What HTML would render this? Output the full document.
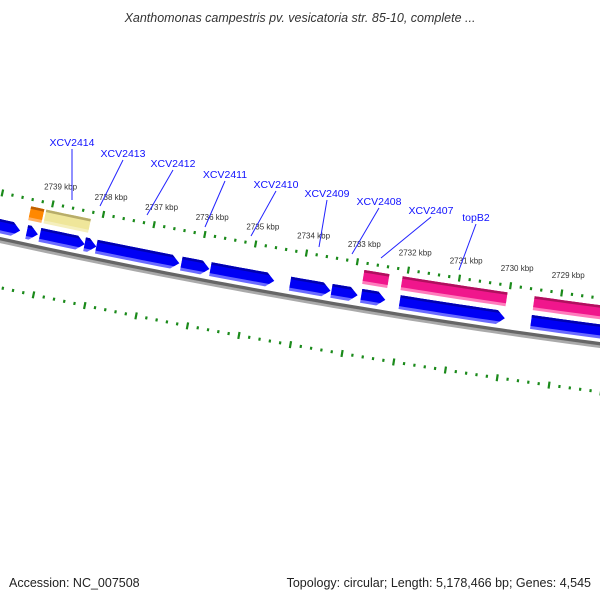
<!DOCTYPE html>
<html><head><meta charset="utf-8"><style>
html,body{margin:0;padding:0;background:#fff;width:600px;height:600px;overflow:hidden}
svg{display:block;font-family:"Liberation Sans","DejaVu Sans",sans-serif}
</style></head><body>
<svg id="map" width="600" height="600" viewBox="0 0 600 600" xmlns="http://www.w3.org/2000/svg">
<text x="300" y="22" text-anchor="middle" font-size="12.5" font-style="italic" fill="#333">Xanthomonas campestris pv. vesicatoria str. 85-10, complete ...</text>
<text x="9" y="587" font-size="12.5" fill="#222">Accession: NC_007508</text>
<text x="591" y="587" text-anchor="end" font-size="12.5" fill="#222">Topology: circular; Length: 5,178,466 bp; Genes: 4,545</text>
<defs id="defs"></defs>
<g id="ticks"></g>
<g id="backbone"></g>
<g id="features"></g>
<g id="labels"></g>
</svg>
<script>
// data (kbp)
const tickMajors=[2741,2740,2739,2738,2737,2736,2735,2734,2733,2732,2731,2730,2729,2728,2727];
const tickLabelKbp=[2739,2738,2737,2736,2735,2734,2733,2732,2731,2730,2729];
const blueStart=[2741.0,2739.38,2739.12,2738.24,2738.01,2736.34,2735.77,2734.21,2733.40,2732.82,2732.07,2729.51];
const blueEnd  =[2739.51,2739.16,2738.24,2738.01,2736.38,2735.79,2734.52,2733.42,2732.89,2732.35,2730.02,2727.0];
const upStart=[2739.40,2739.10,2732.84,2732.09,2729.51];
const upEnd  =[2739.14,2738.22,2732.35,2730.04,2727.0];
const upKind =["orange","yellow","pink","pink","pink"];
const geneNames=["XCV2414","XCV2413","XCV2412","XCV2411","XCV2410","XCV2409","XCV2408","XCV2407","topB2"];
const geneLabelX=[72,123,173,225,276,327,379,431,476];
const geneLabelY=[146,157,167,178,188,197,205,214,221];
const geneLineEndX=[72,100,147,205,251,319,352,381,459];
const geneLineEndY=[200,206,215,227,236,247,254,258,270];

const NS="http://www.w3.org/2000/svg";
const CX=1528,CY=-6726,R=Math.hypot(0-CX,238.5-CY);
const PHI0=Math.atan2(238.5-CY,0-CX);
function sOf(k){return 44.5+(2739-k)*52;}
function pt(s,r){const p=PHI0-s/R;return [CX+(R+r)*Math.cos(p),CY+(R+r)*Math.sin(p)];}
function mk(tag,attrs,parent){const e=document.createElementNS(NS,tag);for(const k in attrs)e.setAttribute(k,attrs[k]);parent.appendChild(e);return e;}
function band(s1,s2,r1,r2){let a=[];const n=Math.max(2,Math.ceil((s2-s1)/10));for(let i=0;i<=n;i++)a.push(pt(s1+(s2-s1)*i/n,r1));for(let i=n;i>=0;i--)a.push(pt(s1+(s2-s1)*i/n,r2));return a.map(p=>p[0].toFixed(2)+","+p[1].toFixed(2)).join(" ");}
function arrow(s1,s2,r1,r2,h){const sh=Math.max(s1,s2-h);let a=[];const n=Math.max(2,Math.ceil((sh-s1)/10));for(let i=0;i<=n;i++)a.push(pt(s1+(sh-s1)*i/n,r1));a.push(pt(s2,(r1+r2)/2));for(let i=n;i>=0;i--)a.push(pt(s1+(sh-s1)*i/n,r2));return a.map(p=>p[0].toFixed(2)+","+p[1].toFixed(2)).join(" ");}

// ticks
const tg=document.getElementById('ticks');
[-45,48].forEach((rc,ri)=>{
  for(let k=2741;k>=2727;k-=0.2){
    const kk=Math.round(k*10)/10;
    const major=Math.abs(kk-Math.round(kk))<0.01;
    if(major)continue;
    const s=sOf(kk);const a=pt(s,rc-1.5),b=pt(s,rc+1.5);
    const l=mk('line',{x1:a[0],y1:a[1],x2:b[0],y2:b[1],stroke:'#1a8a1a','stroke-width':2.2},tg);
    
    
  }
  tickMajors.forEach(k=>{
    const s=sOf(k);const a=pt(s,rc-3.5),b=pt(s,rc+3.5);
    const l=mk('line',{x1:a[0],y1:a[1],x2:b[0],y2:b[1],stroke:'#1a8a1a','stroke-width':2.2},tg);
    
    
  });
});
tickLabelKbp.forEach(k=>{
  const p=pt(sOf(k),-63);
  const t=mk('text',{x:p[0]+4,y:p[1]+3,'text-anchor':'middle','font-size':8,fill:'#333'},tg);
  t.textContent=k+' kbp';
  
  
});

// backbone
const bb=document.getElementById('backbone');
mk('polygon',{points:band(-20,640,1.5,4.5),fill:'#aaa'},bb);
mk('polygon',{points:band(-20,640,-1.5,1.8),fill:'#666'},bb);

// features
const fg=document.getElementById('features');
const defs=document.getElementById('defs');
let cid=0;
function feature(s1,s2,r1,r2,isArrow,cols,name){
  const id='c'+(cid++);
  const cp=mk('clipPath',{id:id},defs);
  mk('polygon',{points:isArrow?arrow(s1,s2,r1,r2,8):band(s1,s2,r1,r2)},cp);
  const g=mk('g',{'clip-path':'url(#'+id+')'},fg);
  
  
  mk('polygon',{points:band(s1-2,s2+2,r1-1,r2+1),fill:cols[2]},g);
  mk('polygon',{points:band(s1-2,s2+2,r1-1,r2-3),fill:cols[0]},g);
  mk('polygon',{points:band(s1-2,s2+2,r1-1,r1+2.5),fill:cols[1]},g);
}
const BLUE=['#0000f5','#0000b0','#6a6aff'];
const COLS={pink:['#f0168c','#b0105e','#ff7cbc'],orange:['#ff8800','#c06000','#ffb060'],yellow:['#efe69a','#b8ad6a','#f5efbc']};
blueStart.forEach((k,i)=>feature(sOf(k),sOf(blueEnd[i]),-19,-5,true,BLUE,'cds-forward-'+i));
upStart.forEach((k,i)=>feature(sOf(k),sOf(upEnd[i]),-38,-24,false,COLS[upKind[i]],upKind[i]+'-feature-'+i));

// gene labels
const lg=document.getElementById('labels');
geneNames.forEach((n,i)=>{
  const l=mk('line',{x1:geneLabelX[i],y1:geneLabelY[i]+3,x2:geneLineEndX[i],y2:geneLineEndY[i],stroke:'#2222ff','stroke-width':1},lg);
  
  
  const t=mk('text',{x:geneLabelX[i],y:geneLabelY[i],'text-anchor':'middle','font-size':10.5,fill:'#1010ff'},lg);
  t.textContent=n;
  
  
});
</script>
</body></html>
